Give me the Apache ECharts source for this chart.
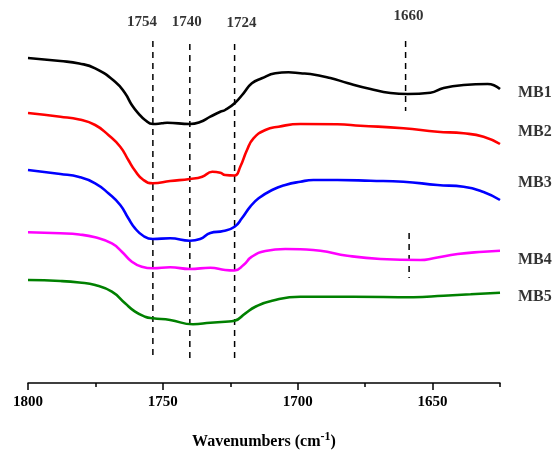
<!DOCTYPE html>
<html>
<head>
<meta charset="utf-8">
<script src="https://cdn.jsdelivr.net/npm/echarts@6/dist/echarts.min.js"></script>
<style>
  html, body { margin: 0; padding: 0; background: #fff; }
  #chart { width: 555px; height: 451px; }
</style>
</head>
<body>
<div id="chart"></div>
<script>
// wavenumber (cm-1) and relative transmittance (a.u.)
const mb1Wn = [1800, 1788, 1781, 1775.1, 1767.7, 1764, 1761.5, 1759.1, 1756.6, 1753.7, 1750.4, 1748.4, 1740, 1736.2, 1732.4, 1728.7, 1726.9, 1723.4, 1720.1, 1717, 1713.3, 1708.3, 1703.4, 1699, 1695.3, 1687.9, 1681.6, 1673, 1665.6, 1659.3, 1650.8, 1645.9, 1638.5, 1629.6, 1625];
const mb1Val = [325, 322, 319.5, 314.7, 301.3, 289.7, 278, 269.7, 263, 259, 259.7, 260.3, 259, 261, 266.3, 271.3, 273, 279.7, 289.7, 299.7, 304.7, 309.7, 310.7, 309.7, 309, 305, 300, 294, 290, 289, 290.3, 295, 298, 299, 294];

const mb2Wn = [1800, 1788, 1781, 1775.1, 1770.2, 1765.8, 1762.8, 1760.3, 1757.2, 1753.7, 1747.3, 1740, 1735.4, 1731.7, 1728.7, 1726.9, 1723.4, 1721.3, 1718.8, 1716.4, 1712, 1707.1, 1699, 1685.3, 1676.8, 1660.8, 1648.2, 1638.5, 1631.1, 1625];
const mb2Val = [270, 266.3, 263.5, 258, 248, 236.3, 223, 212.3, 203, 199.7, 202, 204, 206.3, 211.3, 210.3, 208, 207.5, 216.3, 233, 244.7, 253, 256.3, 259, 258.7, 257.3, 254.7, 251.3, 249.7, 246.3, 239];

const mb3Wn = [1800, 1788, 1781, 1775.1, 1770.2, 1765.8, 1762.8, 1760.3, 1757.2, 1753.7, 1747.3, 1740, 1736.2, 1732.4, 1727.6, 1723.4, 1720.7, 1717.6, 1714.5, 1709.5, 1704.6, 1699, 1694.2, 1685.3, 1673, 1660.8, 1648.2, 1638.5, 1631.1, 1625];
const mb3Val = [213, 209, 206, 199.7, 189.7, 178, 164.7, 154.7, 147, 144, 144.7, 142.3, 144, 150, 152, 156.3, 164.7, 176.3, 184.7, 193, 198, 201.3, 203, 203, 202.3, 201.3, 198, 196.3, 191, 183];

const mb4Wn = [1800, 1788, 1781, 1775.1, 1768.9, 1765.2, 1761.5, 1757.8, 1753.7, 1747.3, 1740, 1732.4, 1726.9, 1723.4, 1720.1, 1717, 1712, 1704.6, 1699, 1691.6, 1681.6, 1669.3, 1654.5, 1649.7, 1640.7, 1631.1, 1625];
const mb4Val = [150.7, 149.7, 148.5, 145.7, 139.7, 131.3, 121.3, 116.3, 114.7, 115.7, 114, 115.3, 113, 112.5, 118, 126.3, 132, 134, 133.7, 132.3, 127.3, 124, 123, 124.7, 129, 131.3, 132.3];

const mb5Wn = [1800, 1788, 1781, 1775.1, 1768.9, 1764, 1760.3, 1756.6, 1753.7, 1747.3, 1738.8, 1732.4, 1726.9, 1723.4, 1719.4, 1715.7, 1709.5, 1699, 1679.4, 1657.1, 1645.9, 1635.9, 1625];
const mb5Val = [103, 102, 100.5, 98, 91.3, 79.7, 71.3, 66.3, 64.7, 63, 58.7, 60.3, 61.3, 62.3, 69.7, 76.3, 82.3, 86.3, 86.3, 85.7, 87.3, 88.7, 90.3];

const seriesNames = ['MB1', 'MB2', 'MB3', 'MB4', 'MB5'];
const seriesColors = ['#000000', '#ff0000', '#0000ff', '#ff00ff', '#008000'];

// dashed peak markers: position, top and bottom of each dash, text
const peakWn = [1753.7, 1740, 1723.4, 1660, 1658.7];
const peakTop = [342, 339, 339, 342, 150];
const peakBottom = [25, 22, 22, 272, 105];
const peakText = ['1754', '1740', '1724', '1660', ''];

const majorTicks = [1800, 1750, 1700, 1650];

const FONT = '"Liberation Serif", "Times New Roman", serif';

const zip = (xs, ys) => xs.map((x, i) => [x, ys[i]]);

const curves = [
    zip(mb1Wn, mb1Val),
    zip(mb2Wn, mb2Val),
    zip(mb3Wn, mb3Val),
    zip(mb4Wn, mb4Val),
    zip(mb5Wn, mb5Val),
];

// label nudges (px)
const nameOffsets = [[13, 4], [13, -12], [13, -17], [13, 9], [13, 4]];
const peakOffsets = [[-11, -6], [-3, -9], [7, -8], [3, -12], [0, 0]];

const boldText = (size) => ({
    color: '#000',
    fontFamily: FONT,
    fontWeight: 'bold',
    fontSize: size,
});

const curveSeries = curves.map((data, i) => ({
    name: seriesNames[i],
    type: 'line',
    data: data,
    smooth: 0.5,
    symbol: 'none',
    lineStyle: { color: seriesColors[i], width: 2.6 },
    z: 3,
}));

// MBx names at the low-wavenumber end of each curve
const nameSeries = {
    type: 'scatter',
    symbolSize: 0,
    silent: true,
    data: curves.map((data, i) => ({
        value: data[data.length - 1],
        label: {
            show: true,
            position: 'right',
            formatter: seriesNames[i],
            offset: nameOffsets[i],
            ...boldText(16),
        },
    })),
    z: 4,
};

const peakSeries = peakWn.map((wn, i) => ({
    type: 'line',
    data: [[wn, peakTop[i]], [wn, peakBottom[i]]],
    symbol: 'none',
    lineStyle: { color: '#000', width: 1.5, type: [6, 5] },
    z: 2,
}));

const peakLabelSeries = {
    type: 'scatter',
    symbolSize: 0,
    silent: true,
    data: peakWn.map((wn, i) => ({
        value: [wn, peakTop[i]],
        label: {
            show: peakText[i] !== '',
            position: 'top',
            formatter: peakText[i],
            offset: peakOffsets[i],
            ...boldText(15),
        },
    })),
    z: 4,
};

const chart = echarts.init(document.getElementById('chart'), null, { renderer: 'canvas' });
chart.setOption({
    animation: false,
    backgroundColor: '#fff',
    grid: { left: 28, right: 55, top: 20, bottom: 68, outerBoundsMode: 'none', containLabel: false },
    xAxis: [
        {
            type: 'value',
            inverse: true,
            min: 1625,
            max: 1800,
            interval: 25,
            name: '{t|Wavenumbers (cm}{s|-1}{t|)}',
            nameLocation: 'middle',
            nameGap: 48,
            nameTextStyle: {
                rich: {
                    t: boldText(16),
                    s: { ...boldText(12), verticalAlign: 'bottom', padding: [0, 0, 10, 0] },
                },
            },
            axisLine: { lineStyle: { color: '#000', width: 1.5 } },
            axisTick: { length: 4, lineStyle: { color: '#000', width: 1.5 } },
            axisLabel: {
                customValues: majorTicks,
                formatter: (v) => String(v),
                margin: 12,
                ...boldText(15),
            },
            splitLine: { show: false },
        },
        {
            type: 'value',
            inverse: true,
            position: 'bottom',
            min: 1625,
            max: 1800,
            axisLine: { show: false },
            axisTick: { customValues: majorTicks, length: 7, lineStyle: { color: '#000', width: 1.5 } },
            axisLabel: { show: false },
            splitLine: { show: false },
        },
    ],
    yAxis: {
        type: 'value',
        show: false,
        min: 0,
        max: 363,
    },
    series: [...curveSeries, ...peakSeries, nameSeries, peakLabelSeries],
});
</script>
</body>
</html>
